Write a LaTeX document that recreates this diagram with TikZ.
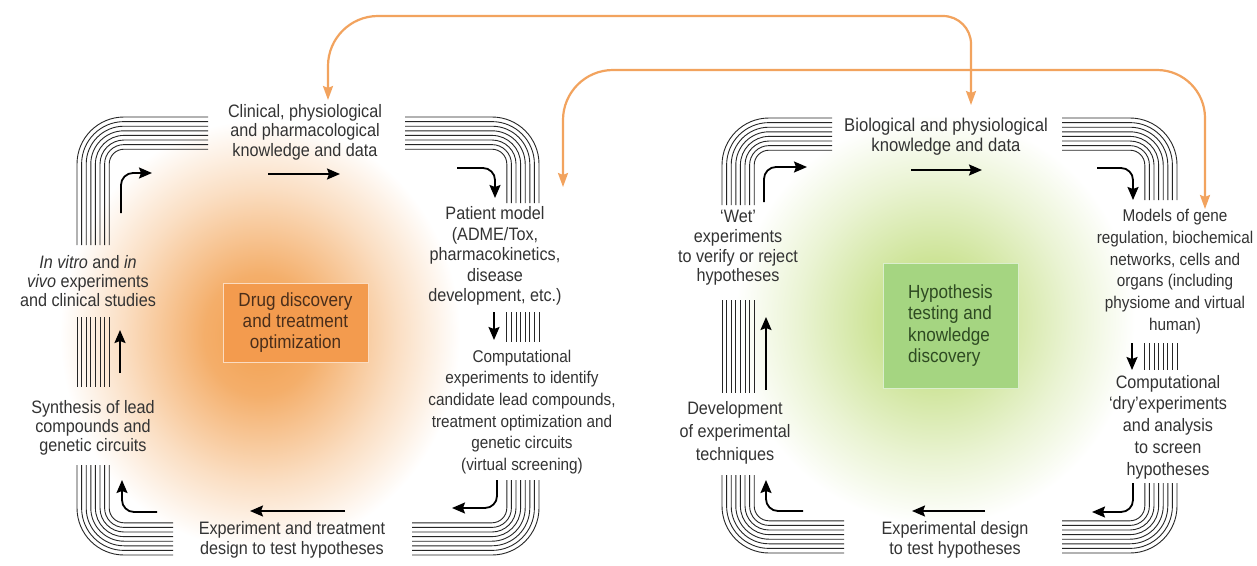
\documentclass[tikz,border=0pt]{standalone}
\usepackage{fontspec}
\setmainfont{Liberation Sans}[FakeStretch=0.9]
\usetikzlibrary{arrows.meta}
\definecolor{txt}{HTML}{333333}
\definecolor{orangeline}{HTML}{F2A35E}
\definecolor{glowO}{HTML}{F2A050}
\definecolor{glowG}{HTML}{C3DE82}
\definecolor{boxO}{HTML}{F39B4E}
\definecolor{boxG}{HTML}{A5D581}
\definecolor{boxOtxt}{HTML}{4A2E1A}
\definecolor{boxGtxt}{HTML}{2E4A22}
\definecolor{bandc}{HTML}{262626}
\pgfdeclareradialshading{glowL}{\pgfpoint{0bp}{0bp}}{color(0bp)=(glowO); color(7bp)=(glowO!85!white); color(17bp)=(glowO!35!white); color(25bp)=(white); color(50bp)=(white)}
\pgfdeclareradialshading{glowR}{\pgfpoint{0bp}{0bp}}{color(0bp)=(glowG); color(7bp)=(glowG!85!white); color(17bp)=(glowG!35!white); color(25bp)=(white); color(50bp)=(white)}
\begin{document}
\begin{tikzpicture}[x=1pt,y=-1pt,
 lbl/.style={font=\fontsize{18}{20.5}\selectfont, text=txt, align=center, inner sep=0pt},
 band/.style={draw=bandc, line width=0.9pt},
 arr/.style={draw=black, line width=1.8pt, -{Stealth[length=13pt,width=11pt,inset=2pt]}},
 oarr/.style={draw=orangeline, line width=2.2pt, {Stealth[length=14pt,width=10pt,inset=2pt]}-{Stealth[length=14pt,width=10pt,inset=2pt]}},
 ]
\useasboundingbox (0,0) rectangle (1257,565);
\fill[white] (0,0) rectangle (1257,565);

% glows
\shade[shading=glowL] (260,335) ellipse [x radius=200, y radius=215];
\shade[shading=glowR] (935,320) ellipse [x radius=200, y radius=205];

% bands
\foreach \i in {0,...,7}{
 \pgfmathsetmacro\d{4.6*\i}
 \pgfmathsetmacro\r{47-\d}
 % left loop
 \draw[band, rounded corners=\r pt] ({77+\d},245) |- (208,{117+\d});
 \draw[band, rounded corners=\r pt] (405,{117+\d}) -| ({539-\d},203);
 \draw[band] ({539-\d},312) -- ({539-\d},342);
 \draw[band, rounded corners=\r pt] ({539-\d},480) |- (412,{555-\d});
 \draw[band, rounded corners=\r pt] (173,{555-\d}) -| ({77+\d},465);
 \draw[band] ({77+\d},317) -- ({77+\d},387);
 % right loop
 \draw[band, rounded corners=\r pt] ({722+\d},205) |- (832,{118+\d});
 \draw[band, rounded corners=\r pt] (1062,{118+\d}) -| ({1177-\d},200);
 \draw[band] ({1177-\d},343) -- ({1177-\d},370);
 \draw[band, rounded corners=\r pt] ({1177-\d},483) |- (1062,{553-\d});
 \draw[band, rounded corners=\r pt] (844,{553-\d}) -| ({722+\d},475);
 \draw[band] ({722+\d},300) -- ({722+\d},393);
}

% center boxes
\node[draw=boxO!35!white, fill=boxO, line width=1pt, minimum width=145pt, minimum height=79pt,
 font=\fontsize{19}{21}\selectfont, text=boxOtxt, align=center, inner sep=0pt] (drug) at (295.5,322.5)
 {Drug discovery\\and treatment\\optimization};
\node[draw=boxG!40!white, fill=boxG, line width=1pt, minimum width=135pt, minimum height=125pt,
 font=\fontsize{19}{21.5}\selectfont, text=boxGtxt, align=left, inner sep=0pt] (hyp) at (950.5,325.5)
 {Hypothesis\\testing and\\knowledge\\discovery};

% left panel labels
\node[lbl, font=\fontsize{18}{19.5}\selectfont] (clin) at (305,132) {Clinical, physiological\\and pharmacological\\knowledge and data};
\node[lbl] (pat) at (495,256) {Patient model\\(ADME/Tox,\\pharmacokinetics,\\disease\\development, etc.)};
\node[lbl, font=\fontsize{17}{21.7}\selectfont] (comp) at (522,412) {Computational\\experiments to identify\\candidate lead compounds,\\treatment optimization and\\genetic circuits\\(virtual screening)};
\node[lbl] (expt) at (292,540) {Experiment and treatment\\design to test hypotheses};
\node[lbl, font=\fontsize{18}{19}\selectfont] (synth) at (93,428) {Synthesis of lead\\compounds and\\genetic circuits};
\node[lbl, font=\fontsize{18}{19}\selectfont] (invitro) at (88,281) {\textit{In vitro} and \textit{in}\\\textit{vivo} experiments\\and clinical studies};

% right panel labels
\node[lbl, font=\fontsize{18.5}{20}\selectfont] (bio) at (946,137) {Biological and physiological\\knowledge and data};
\node[lbl, font=\fontsize{17}{21.8}\selectfont] (models) at (1175,271.5) {Models of gene\\regulation, biochemical\\networks, cells and\\organs (including\\physiome and virtual\\human)};
\node[lbl, font=\fontsize{18}{21.7}\selectfont] (dry) at (1168,427) {Computational\\‘dry’experiments\\and analysis\\to screen\\hypotheses};
\node[lbl] (expd) at (955,540) {Experimental design\\to test hypotheses};
\node[lbl, font=\fontsize{18}{23}\selectfont] (devel) at (735,433) {Development\\of experimental\\techniques};
\node[lbl, font=\fontsize{18}{19.7}\selectfont] (wet) at (738,248) {‘Wet’\\experiments\\to verify or reject\\hypotheses};

% arrow end points, left loop
\coordinate (a1s) at (121,213); \coordinate (a1e) at (152,173);
\coordinate (a2s) at (268,174); \coordinate (a2e) at (340,174);
\coordinate (a3s) at (457,168); \coordinate (a3e) at (495,198);
\coordinate (a4s) at (494,312); \coordinate (a4e) at (494,340);
\coordinate (a5s) at (497,480); \coordinate (a5e) at (452,508);
\coordinate (a6s) at (345,511); \coordinate (a6e) at (250,511);
\coordinate (a7s) at (157,512); \coordinate (a7e) at (122,480);
\coordinate (a8s) at (120,373); \coordinate (a8e) at (120,330);
\draw[arr, rounded corners=12pt] (a1s) |- (a1e);
\draw[arr] (a2s) -- (a2e);
\draw[arr, rounded corners=12pt] (a3s) -| (a3e);
\draw[arr] (a4s) -- (a4e);
\draw[arr, rounded corners=12pt] (a5s) |- (a5e);
\draw[arr] (a6s) -- (a6e);
\draw[arr, rounded corners=12pt] (a7s) -| (a7e);
\draw[arr] (a8s) -- (a8e);

% arrow end points, right loop
\coordinate (b1s) at (764,202); \coordinate (b1e) at (807,167);
\coordinate (b2s) at (911,170); \coordinate (b2e) at (982,170);
\coordinate (b3s) at (1097,168); \coordinate (b3e) at (1133,200);
\coordinate (b4s) at (1132,343); \coordinate (b4e) at (1132,370);
\coordinate (b5s) at (1133,483); \coordinate (b5e) at (1092,512);
\coordinate (b6s) at (985,511); \coordinate (b6e) at (912,511);
\coordinate (b7s) at (803,511); \coordinate (b7e) at (766,480);
\coordinate (b8s) at (766,390); \coordinate (b8e) at (766,317);
\draw[arr, rounded corners=12pt] (b1s) |- (b1e);
\draw[arr] (b2s) -- (b2e);
\draw[arr, rounded corners=12pt] (b3s) -| (b3e);
\draw[arr] (b4s) -- (b4e);
\draw[arr, rounded corners=12pt] (b5s) |- (b5e);
\draw[arr] (b6s) -- (b6e);
\draw[arr, rounded corners=12pt] (b7s) -| (b7e);
\draw[arr] (b8s) -- (b8e);

% orange links
\coordinate (o1a) at (328,100); \coordinate (o1m) at (650,16); \coordinate (o1b) at (971,105);
\coordinate (o2a) at (563,187); \coordinate (o2m) at (880,70); \coordinate (o2b) at (1205,209);
\draw[oarr, rounded corners=50pt] (o1a) |- (o1m) [rounded corners=28pt] -| (o1b);
\draw[oarr, rounded corners=50pt] (o2a) |- (o2m) [rounded corners=48pt] -| (o2b);
\end{tikzpicture}
\end{document}
